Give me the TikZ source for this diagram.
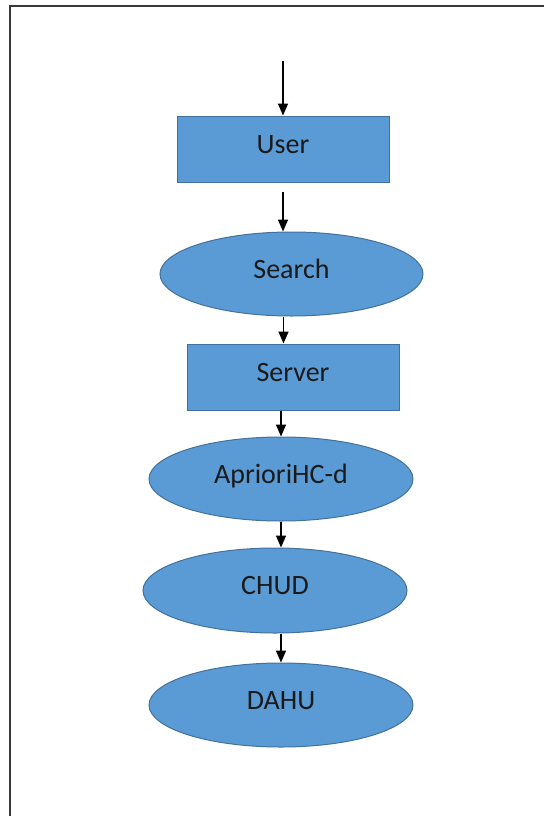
\documentclass[tikz,border=0pt]{standalone}
\usepackage{fontspec}
\setmainfont{Carlito}
\usetikzlibrary{shapes.geometric,arrows.meta,calc}
\definecolor{boxfill}{HTML}{5B9BD5}
\definecolor{boxline}{HTML}{41719C}
\definecolor{txt}{HTML}{1A1A1A}
\definecolor{frame}{HTML}{3A3A3A}
\tikzset{
  base/.style={fill=boxfill, draw=boxline, line width=1pt, text=txt, inner sep=0pt,
    text height=18pt, text depth=10pt,
    font=\fontsize{28}{30}\selectfont},
  rectbox/.style={base, rectangle, minimum width=212pt, minimum height=66pt},
  ellbox/.style={base, ellipse, minimum width=264pt, minimum height=84pt},
  arr/.style={line width=1.6pt, -{Triangle[width=10pt,length=12pt]}},
}
\begin{document}
\begin{tikzpicture}[x=1pt,y=-1pt]
\useasboundingbox (0,0) rectangle (544,816);
\draw[frame, line width=2pt] (544,6) -- (10,6) -- (10,816);
\node[rectbox] (user) at (283,149) {User};
\node[ellbox, minimum width=263pt] (search) at (291.5,274) {Search};
\node[rectbox] (server) at (293,377) {Server};
\node[ellbox] (apriori) at (281,479) {AprioriHC-d};
\node[ellbox, minimum height=85pt] (chud) at (275,590.5) {CHUD};
\node[ellbox] (dahu) at (281,705) {DAHU};
\coordinate (start) at (283,61);
\draw[arr] (start) -- (user.north);
\draw[arr] ([yshift=-9pt]user.south) -- (user.south |- search.north);
\draw[arr] ([xshift=-8pt]search.south) -- ([xshift=-8pt]search.south |- server.north);
\draw[arr] (server.south -| apriori.north) -- (apriori.north);
\draw[arr] (apriori.south) -- (apriori.south |- chud.north);
\draw[arr] (dahu.north |- chud.south) -- (dahu.north);
\end{tikzpicture}
\end{document}
